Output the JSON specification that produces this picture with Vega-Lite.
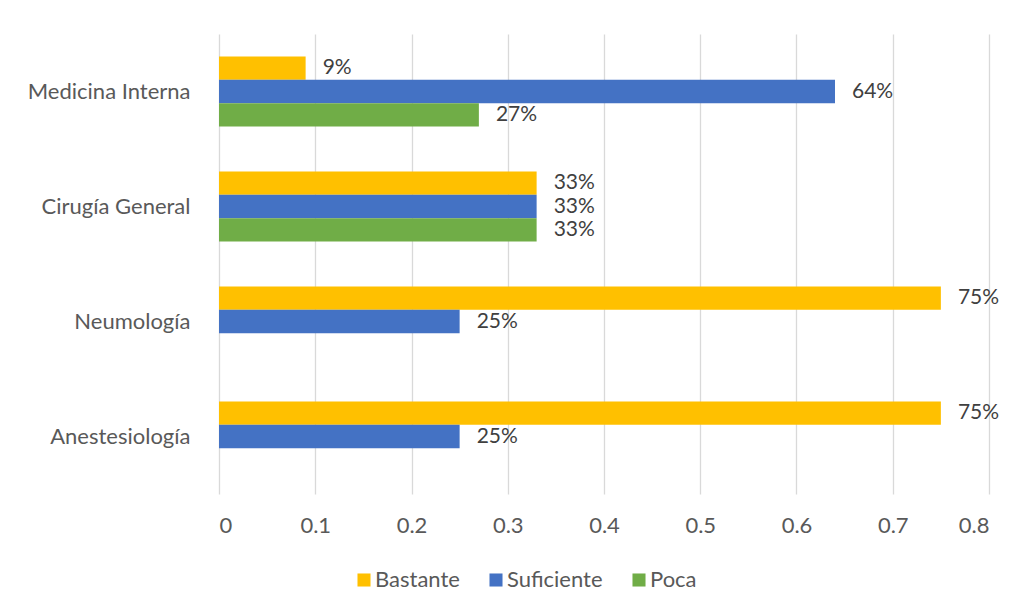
{
  "$schema": "https://vega.github.io/schema/vega-lite/v6.json",
  "autosize": {"type": "none"},
  "padding": {"left": 219, "top": 34, "right": 32, "bottom": 119},
  "width": 770,
  "height": 460,
  "background": "#ffffff",
  "config": {
    "view": {"stroke": null},
    "font": "Lato",
    "axis": {"labelFont": "Lato", "labelColor": "#595959", "labelFontSize": 22},
    "legend": {"labelFont": "Lato", "labelColor": "#595959", "labelFontSize": 22}
  },
  "data": {
    "values": [
      {"servicio": "Medicina Interna", "nivel": "Bastante", "valor": 0.09},
      {"servicio": "Medicina Interna", "nivel": "Suficiente", "valor": 0.64},
      {"servicio": "Medicina Interna", "nivel": "Poca", "valor": 0.27},
      {"servicio": "Cirugía General", "nivel": "Bastante", "valor": 0.33},
      {"servicio": "Cirugía General", "nivel": "Suficiente", "valor": 0.33},
      {"servicio": "Cirugía General", "nivel": "Poca", "valor": 0.33},
      {"servicio": "Neumología", "nivel": "Bastante", "valor": 0.75},
      {"servicio": "Neumología", "nivel": "Suficiente", "valor": 0.25},
      {"servicio": "Anestesiología", "nivel": "Bastante", "valor": 0.75},
      {"servicio": "Anestesiología", "nivel": "Suficiente", "valor": 0.25}
    ]
  },
  "encoding": {
    "y": {
      "field": "servicio",
      "type": "nominal",
      "sort": ["Medicina Interna", "Cirugía General", "Neumología", "Anestesiología"],
      "scale": {"paddingInner": 0.39, "paddingOuter": 0.195},
      "axis": {"title": null, "ticks": false, "domain": false, "labelPadding": 29, "grid": false}
    },
    "yOffset": {
      "field": "nivel",
      "type": "nominal",
      "sort": ["Bastante", "Suficiente", "Poca"],
      "scale": {"domain": ["Bastante", "Suficiente", "Poca"], "paddingInner": 0, "paddingOuter": 0}
    },
    "x": {
      "field": "valor",
      "type": "quantitative",
      "scale": {"domain": [0, 0.8], "nice": false},
      "axis": {
        "title": null,
        "values": [0, 0.1, 0.2, 0.3, 0.4, 0.5, 0.6, 0.7, 0.8],
        "format": "~g",
        "ticks": false,
        "domain": false,
        "grid": true,
        "gridColor": "#D9D9D9",
        "gridWidth": 1.3,
        "labelPadding": 21
      }
    }
  },
  "layer": [
    {
      "mark": {"type": "bar"},
      "encoding": {
        "color": {
          "field": "nivel",
          "type": "nominal",
          "sort": ["Bastante", "Suficiente", "Poca"],
          "scale": {"domain": ["Bastante", "Suficiente", "Poca"], "range": ["#FFC000", "#4472C4", "#70AD47"]},
          "legend": {
            "title": null,
            "orient": "none",
            "direction": "horizontal",
            "legendX": 134,
            "legendY": 535,
            "symbolType": "square",
            "symbolSize": 170,
            "symbolStrokeWidth": 0,
            "labelOffset": 0,
            "columnPadding": 25
          }
        }
      }
    },
    {
      "mark": {"type": "text", "align": "left", "baseline": "middle", "dx": 17, "fontSize": 21, "color": "#404040", "font": "Lato"},
      "encoding": {
        "text": {"field": "valor", "type": "quantitative", "format": ".0%"}
      }
    }
  ]
}
